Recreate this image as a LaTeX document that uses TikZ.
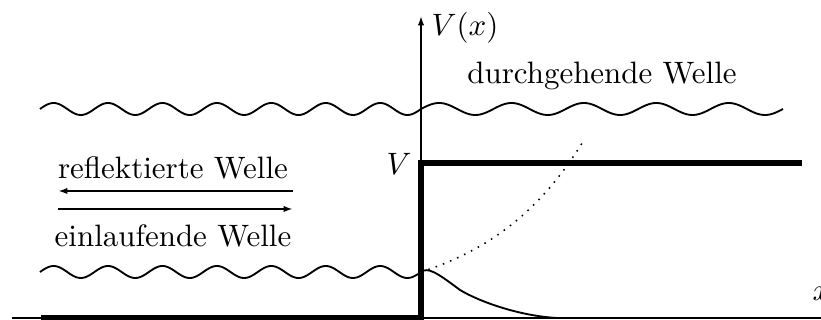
\documentclass[tikz,border=0pt]{standalone}
\usepackage{amsmath}
\usepackage{tikz}
\usetikzlibrary{arrows.meta, positioning}

\begin{document}
\begin{tikzpicture}[
    x=0.323pt, y=-0.323pt,
    wave/.style={line width=0.6pt},
    potential/.style={line width=1.7pt},
    axis/.style={-{Latex[length=3pt, width=2pt]}, line width=0.5pt},
    flow/.style={-{Latex[length=3pt, width=2pt]}, line width=0.6pt},
    label/.style={font=\normalsize, inner sep=0pt},
]
\useasboundingbox (0,0) rectangle (821,320);

\coordinate (origin) at (421,318);
\coordinate (xstart) at (12,318);
\coordinate (xend) at (840,318);
\coordinate (ytop) at (421,16);
\coordinate (stepcorner) at (421,163);
\coordinate (stepend) at (802,163);
\coordinate (leftend) at (41,318);

\draw[axis] (xstart) -- (xend);
\draw[axis] (origin) -- (ytop);
\draw[potential] (leftend) -- (origin) -- (stepcorner) -- (stepend);

\node[label] (vx) at (465,28) {$V(x)$};
\node[label, anchor=west] (xlabel) at (812,294) {$x$};
\node[label] (vlabel) at (399,164) {$V$};
\node[label] (transmitted) at (602,76) {durchgehende Welle};
\node[label] (reflected) at (173,168) {reflektierte Welle};
\node[label] (incoming) at (173,236) {einlaufende Welle};

\coordinate (refl-a) at (293,191);
\coordinate (refl-b) at (58,191);
\coordinate (inc-a) at (58,209);
\coordinate (inc-b) at (293,209);
\draw[flow] (refl-a) -- (refl-b);
\draw[flow] (inc-a) -- (inc-b);

\draw[wave] plot[domain=40:421, samples=240] (\x, {109-6*sin(6.614*(\x-40))});
\draw[wave] plot[domain=421:783, samples=200] (\x, {109-6*sin(4.972*(\x-421))});
\draw[wave] plot[domain=40:421, samples=240] (\x, {272-6*sin(6.614*(\x-40))});

\draw[wave] (421,272) .. controls (428,267) and (436,272) .. (460,290)
    .. controls (480,302) and (520,316) .. (557,318);
\draw[dotted, line width=0.5pt] plot[domain=421:584, samples=80] (\x, {272-32.2*(exp(0.01*(\x-421))-1)});

\end{tikzpicture}
\end{document}
